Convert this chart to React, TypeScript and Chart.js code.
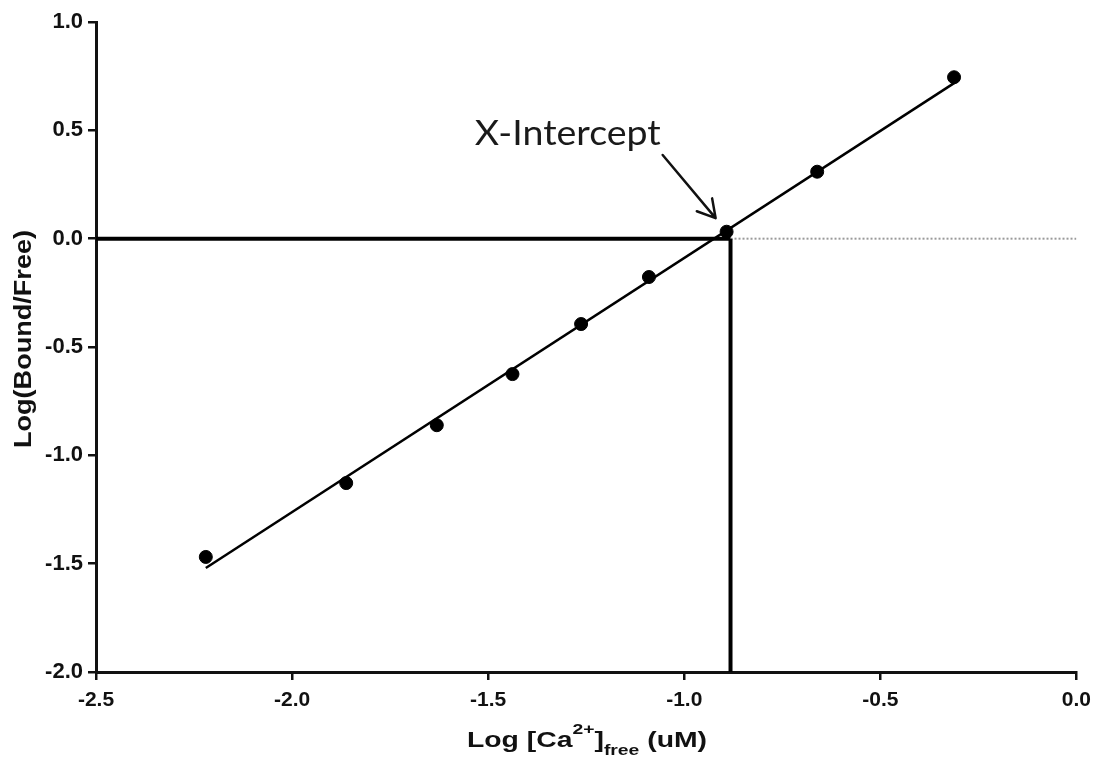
import React, { useEffect, useRef } from "react";
import { Chart, registerables } from "chart.js";

Chart.register(...registerables);

// Data
const xValues = [-2.22, -1.862, -1.631, -1.438, -1.263, -1.09, -0.892, -0.661, -0.312];
const yValues = [-1.469, -1.128, -0.861, -0.625, -0.394, -0.177, 0.032, 0.309, 0.745];
const fitX = [-2.22, -0.31];
const fitY = [-1.52, 0.72];
const xIntercept = -0.882;
const xRange = [-2.5, 0];
const yRange = [-2.0, 1.0];
const tickStep = 0.5;
const annotationText = "X-Intercept";
const annotationTextPos = [-1.534, 0.432];
const arrowTail = [-1.055, 0.386];
const arrowTip = [-0.92, 0.095];

const AXIS_FONT = "'Liberation Sans', Arial, sans-serif";

const drawPlugin = {
  id: "customDraw",
  afterDraw(chart: any) {
    const ctx: CanvasRenderingContext2D = chart.ctx;
    const xs = chart.scales.x;
    const ys = chart.scales.y;

    // X axis title with superscript/subscript
    ctx.save();
    ctx.fillStyle = "#111";
    ctx.textBaseline = "alphabetic";
    ctx.textAlign = "left";
    const main = `bold 22px ${AXIS_FONT}`;
    const small = `bold 15px ${AXIS_FONT}`;
    const runs = [
      { t: "Log [Ca", f: main, dy: 0 },
      { t: "2+", f: small, dy: -13 },
      { t: "]", f: main, dy: 0 },
      { t: "free", f: small, dy: 8 },
      { t: " (uM)", f: main, dy: 0 },
    ];
    let W = 0;
    for (const r of runs) {
      ctx.font = r.f;
      W += ctx.measureText(r.t).width;
    }
    const targetW = 240;
    const s = targetW / W;
    const cx = 587;
    ctx.translate(cx - targetW / 2, 747);
    ctx.scale(s, 1);
    let px = 0;
    for (const r of runs) {
      ctx.font = r.f;
      ctx.fillText(r.t, px, r.dy);
      px += ctx.measureText(r.t).width;
    }
    ctx.restore();

    // Y axis title
    ctx.save();
    ctx.fillStyle = "#111";
    ctx.font = `bold 23px ${AXIS_FONT}`;
    ctx.textAlign = "center";
    ctx.textBaseline = "alphabetic";
    const yt = "Log(Bound/Free)";
    const yw = ctx.measureText(yt).width;
    ctx.translate(31, 339);
    ctx.rotate(-Math.PI / 2);
    ctx.scale(218 / yw, 1);
    ctx.fillText(yt, 0, 0);
    ctx.restore();

    // Annotation text
    ctx.save();
    ctx.fillStyle = "#1a1a1a";
    ctx.font = `34px Lato, 'Open Sans', sans-serif`;
    ctx.textAlign = "left";
    ctx.textBaseline = "alphabetic";
    const aw = ctx.measureText(annotationText).width;
    const tx = xs.getPixelForValue(annotationTextPos[0]);
    const ty = ys.getPixelForValue(annotationTextPos[1]);
    ctx.translate(tx, ty);
    ctx.scale(186 / aw, 1);
    ctx.fillText(annotationText, 0, 0);
    ctx.restore();

    // Arrow
    const x1 = xs.getPixelForValue(arrowTail[0]);
    const y1 = ys.getPixelForValue(arrowTail[1]);
    const x2 = xs.getPixelForValue(arrowTip[0]);
    const y2 = ys.getPixelForValue(arrowTip[1]);
    ctx.save();
    ctx.strokeStyle = "#111";
    ctx.lineWidth = 2.5;
    ctx.lineCap = "round";
    ctx.lineJoin = "round";
    ctx.beginPath();
    ctx.moveTo(x1, y1);
    ctx.lineTo(x2, y2);
    const ang = Math.atan2(y2 - y1, x2 - x1);
    const hl = 20;
    const ha = Math.PI / 6;
    ctx.moveTo(x2 - hl * Math.cos(ang - ha), y2 - hl * Math.sin(ang - ha));
    ctx.lineTo(x2, y2);
    ctx.lineTo(x2 - hl * Math.cos(ang + ha), y2 - hl * Math.sin(ang + ha));
    ctx.stroke();
    ctx.restore();
  },
};

export default function App() {
  const ref = useRef<HTMLCanvasElement>(null);

  useEffect(() => {
    if (!ref.current) return;
    const points = xValues.map((x, i) => ({ x, y: yValues[i] }));
    const fit = fitX.map((x, i) => ({ x, y: fitY[i] }));
    const chart = new Chart(ref.current, {
      type: "scatter",
      data: {
        datasets: [
          {
            label: "data",
            data: points,
            backgroundColor: "#000",
            borderColor: "#000",
            pointRadius: 6.5,
            pointHoverRadius: 6.5,
            order: 0,
          },
          {
            label: "fit",
            type: "line",
            data: fit,
            borderColor: "#000",
            borderWidth: 2.5,
            pointRadius: 0,
            fill: false,
            order: 1,
          } as any,
          {
            label: "zero-left",
            type: "line",
            data: [
              { x: xRange[0], y: 0 },
              { x: xIntercept, y: 0 },
            ],
            borderColor: "#000",
            borderWidth: 4,
            pointRadius: 0,
            fill: false,
            order: 2,
          } as any,
          {
            label: "zero-right",
            type: "line",
            data: [
              { x: xIntercept, y: 0 },
              { x: xRange[1], y: 0 },
            ],
            borderColor: "#9a9a9a",
            borderWidth: 2,
            borderDash: [2, 2],
            pointRadius: 0,
            fill: false,
            order: 3,
          } as any,
          {
            label: "intercept",
            type: "line",
            data: [
              { x: xIntercept, y: 0 },
              { x: xIntercept, y: yRange[0] },
            ],
            borderColor: "#000",
            borderWidth: 4,
            pointRadius: 0,
            fill: false,
            order: 2,
          } as any,
        ],
      },
      options: {
        responsive: false,
        animation: false,
        events: [],
        layout: { padding: { top: 22, right: 21, left: 0, bottom: 0 } },
        plugins: {
          legend: { display: false },
          tooltip: { enabled: false },
          title: { display: false },
        },
        scales: {
          x: {
            type: "linear",
            min: xRange[0],
            max: xRange[1],
            afterFit: (scale: any) => {
              scale.height = 89;
            },
            ticks: {
              stepSize: tickStep,
              color: "#111",
              font: { family: AXIS_FONT, size: 21, weight: "bold" },
              padding: 8,
              maxRotation: 0,
              callback: (v: any) => Number(v).toFixed(1),
            },
            grid: {
              display: true,
              drawOnChartArea: false,
              drawTicks: true,
              tickLength: 8,
              color: "#111",
              lineWidth: 2.5,
            },
            border: { display: true, color: "#111", width: 3 },
          },
          y: {
            type: "linear",
            min: yRange[0],
            max: yRange[1],
            afterFit: (scale: any) => {
              scale.width = 96;
            },
            ticks: {
              stepSize: tickStep,
              color: "#111",
              font: { family: AXIS_FONT, size: 22, weight: "bold" },
              padding: 5,
              callback: (v: any) => Number(v).toFixed(1),
            },
            grid: {
              display: true,
              drawOnChartArea: false,
              drawTicks: true,
              tickLength: 8,
              color: "#111",
              lineWidth: 2.5,
            },
            border: { display: true, color: "#111", width: 3 },
          },
        },
      },
      plugins: [drawPlugin],
    });
    return () => chart.destroy();
  }, []);

  return (
    <div
      style={{
        position: "fixed",
        left: 0,
        top: 0,
        width: 1099,
        height: 761,
        background: "#fff",
      }}
    >
      <canvas ref={ref} width={1099} height={761} />
    </div>
  );
}
